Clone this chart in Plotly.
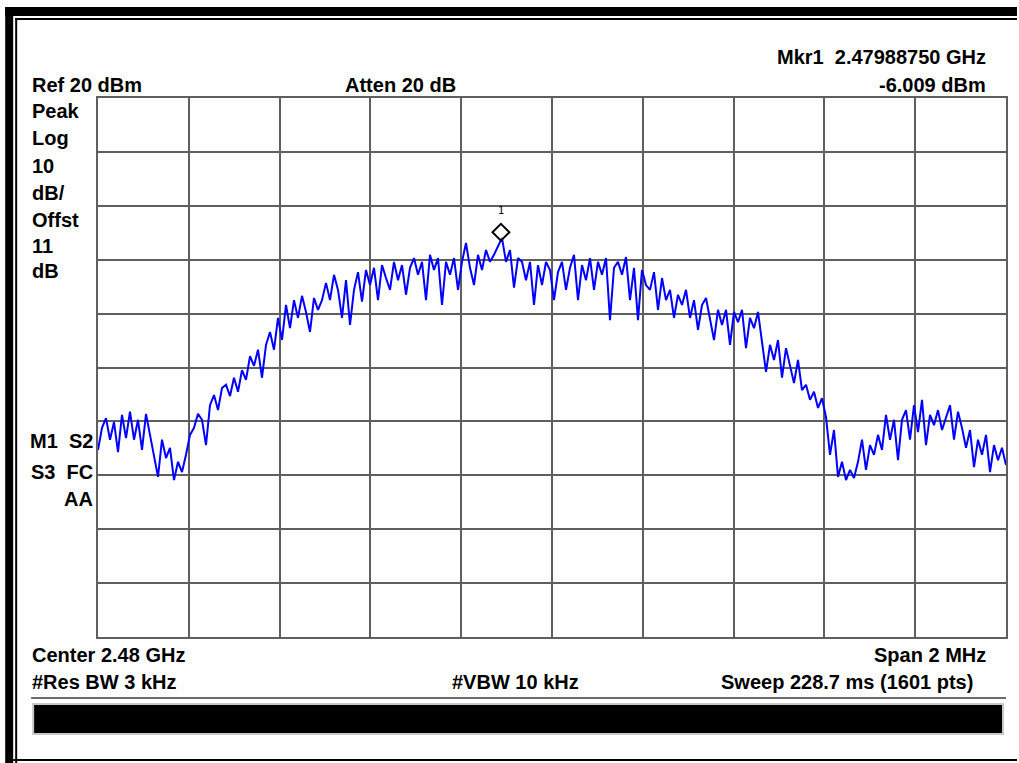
import numpy as np
import plotly.graph_objects as go

# ---------------- data ----------------
CENTER_GHZ = 2.48
SPAN_MHZ = 2.0
REF_DBM = 20
DB_PER_DIV = 10
N_DIV = 10
MARKER_FREQ_GHZ = 2.47988750
MARKER_DBM = -6.009

# trace values (dBm), read left to right across the span
seg_a = [-45.3, -41.2, -39.4, -43.4, -40.1, -45.7, -38.8, -43.1, -38.2, -43.4, -39.7, -45.3,
         -38.6, -42.7, -46.2, -50.3, -43.4, -46.8, -44.9, -50.9, -47.5, -49.4, -46.2, -42.5]
seg_b = [-41.2, -38.6, -39.7, -44.4, -37.0, -35.1, -37.9, -33.8, -33.2, -35.3, -31.9, -34.5,
         -30.5, -32.3, -27.9, -29.7, -26.7, -31.9, -25.8, -23.4, -26.7, -20.8, -24.9, -18.4, -22.7]
seg_c = [-17.5, -20.8, -16.7, -19.7, -23.4, -17.1, -19.3, -17.5, -14.3, -17.5, -12.8, -15.6,
         -20.8, -13.8, -22.1, -15.6, -12.3, -17.8, -11.9, -14.7, -11.5, -17.5, -11.0, -13.4, -15.6]
seg_d = [-10.4, -13.8, -11.0, -16.5, -11.5, -9.7, -12.8, -10.4, -17.5, -9.1, -11.9, -9.7,
         -18.4, -10.4, -12.8, -9.7, -15.6, -10.4, -6.9, -11.5, -14.7, -9.1, -11.9, -8.2, -10.4]
seg_e = [-9.1, -7.5, -6.0, -10.4, -8.2, -15.2, -9.7, -10.4, -13.8, -10.4, -18.4, -11.0,
         -14.7, -10.4, -11.9, -17.5, -12.3, -10.4, -15.6, -11.5, -9.1, -17.5, -11.0, -13.8, -9.7]
seg_f = [-15.6, -10.4, -12.8, -9.7, -21.2, -11.5, -10.4, -12.8, -9.5, -17.5, -11.5, -21.2,
         -11.9, -14.7, -15.6, -12.3, -19.3, -13.4, -17.5, -15.6, -20.8, -16.5, -18.4, -15.6, -20.8]
seg_g = [-17.5, -23.0, -18.4, -17.1, -20.8, -24.9, -19.3, -22.1, -19.3, -25.8, -19.7, -21.6,
         -19.3, -26.4, -20.8, -22.7, -19.7, -24.9, -30.8, -25.8, -28.6, -24.9, -31.9, -26.4, -29.5]
seg_h = [-32.9, -28.6, -34.2, -33.2, -36.0, -34.5, -37.5, -35.7, -39.2, -46.2, -41.6, -50.3,
         -47.5, -50.9, -49.0, -50.5, -47.5, -43.4, -49.0, -44.4, -46.2, -42.5, -45.3, -38.8, -43.4]
seg_i = [-39.7, -47.2, -39.7, -37.9, -43.4, -37.0, -42.0, -36.0, -44.4, -38.8, -40.7, -37.9,
         -41.6, -39.4, -37.0, -43.4, -38.2, -41.2, -44.9, -41.6, -48.5, -43.4, -46.2, -42.5,
         -49.4, -44.4, -47.2, -44.9, -48.1]

trace_dbm = seg_a + seg_b + seg_c + seg_d + seg_e + seg_f + seg_g + seg_h + seg_i

# ---------------- geometry helpers ----------------
W, H = 1019, 763
L, R, T, B = 98, 1008, 98, 637


def px(x):
    return (x - L) / (R - L)


def py(y):
    return (B - y) / (B - T)


f_start = CENTER_GHZ - SPAN_MHZ / 2000
f_stop = CENTER_GHZ + SPAN_MHZ / 2000
freqs = np.linspace(f_start, f_stop, len(trace_dbm))

fig = go.Figure()
fig.add_trace(go.Scatter(x=freqs, y=trace_dbm, mode="lines",
                         line=dict(color="#0000ff", width=2), hoverinfo="skip"))
# marker diamond (drawn just above the marked point)
fig.add_trace(go.Scatter(x=[MARKER_FREQ_GHZ], y=[MARKER_DBM + 1.1], mode="markers",
                         marker=dict(symbol="diamond-open", size=13, color="black",
                                     line=dict(width=2, color="black")), hoverinfo="skip"))

FONT = "Liberation Sans, Arial, sans-serif"
annots = []


def txt(text, x, y, anchor="left", size=20):
    annots.append(dict(text="<b>%s</b>" % text, x=px(x), y=py(y), xref="paper", yref="paper",
                       xanchor=anchor, yanchor="middle", showarrow=False,
                       font=dict(family=FONT, size=size, color="#000")))


txt("Mkr1  2.47988750 GHz", 990, 57, "right")
txt("Ref 20 dBm", 30, 85)
txt("Atten 20 dB", 344, 85)
txt("-6.009 dBm", 990, 85, "right")
for label, yy in [("Peak", 111), ("Log", 138), ("10", 166), ("dB/", 193),
                  ("Offst", 220), ("11", 246), ("dB", 271)]:
    txt(label, 30, yy)
txt("M1  S2", 95, 441, "right")
txt("S3  FC", 95, 472, "right")
txt("AA", 95, 499, "right")
txt("Center 2.48 GHz", 30, 655)
txt("Span 2 MHz", 990, 655, "right")
txt("#Res BW 3 kHz", 30, 682)
txt("#VBW 10 kHz", 451, 682)
txt("Sweep 228.7 ms (1601 pts)", 977, 682, "right")

# marker number label
annots.append(dict(text="1", x=MARKER_FREQ_GHZ, y=MARKER_DBM, xref="x", yref="y",
                   yshift=28, showarrow=False,
                   font=dict(family="DejaVu Sans Mono, monospace", size=10, color="#000")))

shapes = []


def rect(x0, y0, x1, y1, fill, line_color=None, lw=0):
    shapes.append(dict(type="rect", xref="paper", yref="paper",
                       x0=px(x0), x1=px(x1), y0=py(y1), y1=py(y0),
                       fillcolor=fill, line=dict(width=lw, color=line_color or fill)))


# window frame
rect(5, 7, 1019, 16, "black")
rect(5, 7, 13, 763, "black")
rect(15, 18, 1019, 20, "black")
rect(15, 18, 17, 763, "black")
rect(13, 759, 1019, 761, "black")
# status bar at the bottom
rect(31, 697, 1008, 699, "#6a6a6a")
rect(33, 704, 1005, 734, "black", "#c8c8c8", 2)

fig.update_layout(
    width=W, height=H,
    margin=dict(l=L, r=W - R, t=T, b=H - B),
    paper_bgcolor="white", plot_bgcolor="white",
    showlegend=False,
    annotations=annots,
    shapes=shapes,
    xaxis=dict(range=[f_start, f_stop], tick0=f_start, dtick=SPAN_MHZ / 1000 / N_DIV,
               showticklabels=False, ticks="", showgrid=True, gridcolor="#5f5f5f", gridwidth=2,
               zeroline=False, showline=True, mirror=True, linecolor="#5f5f5f", linewidth=2,
               fixedrange=True),
    yaxis=dict(range=[REF_DBM - DB_PER_DIV * N_DIV, REF_DBM], tick0=REF_DBM, dtick=DB_PER_DIV,
               showticklabels=False, ticks="", showgrid=True, gridcolor="#5f5f5f", gridwidth=2,
               zeroline=False, showline=True, mirror=True, linecolor="#5f5f5f", linewidth=2,
               fixedrange=True),
)

fig.write_html("out.html", config={"displayModeBar": False},
               post_script="document.body.style.margin='0';document.body.style.overflow='hidden';")
